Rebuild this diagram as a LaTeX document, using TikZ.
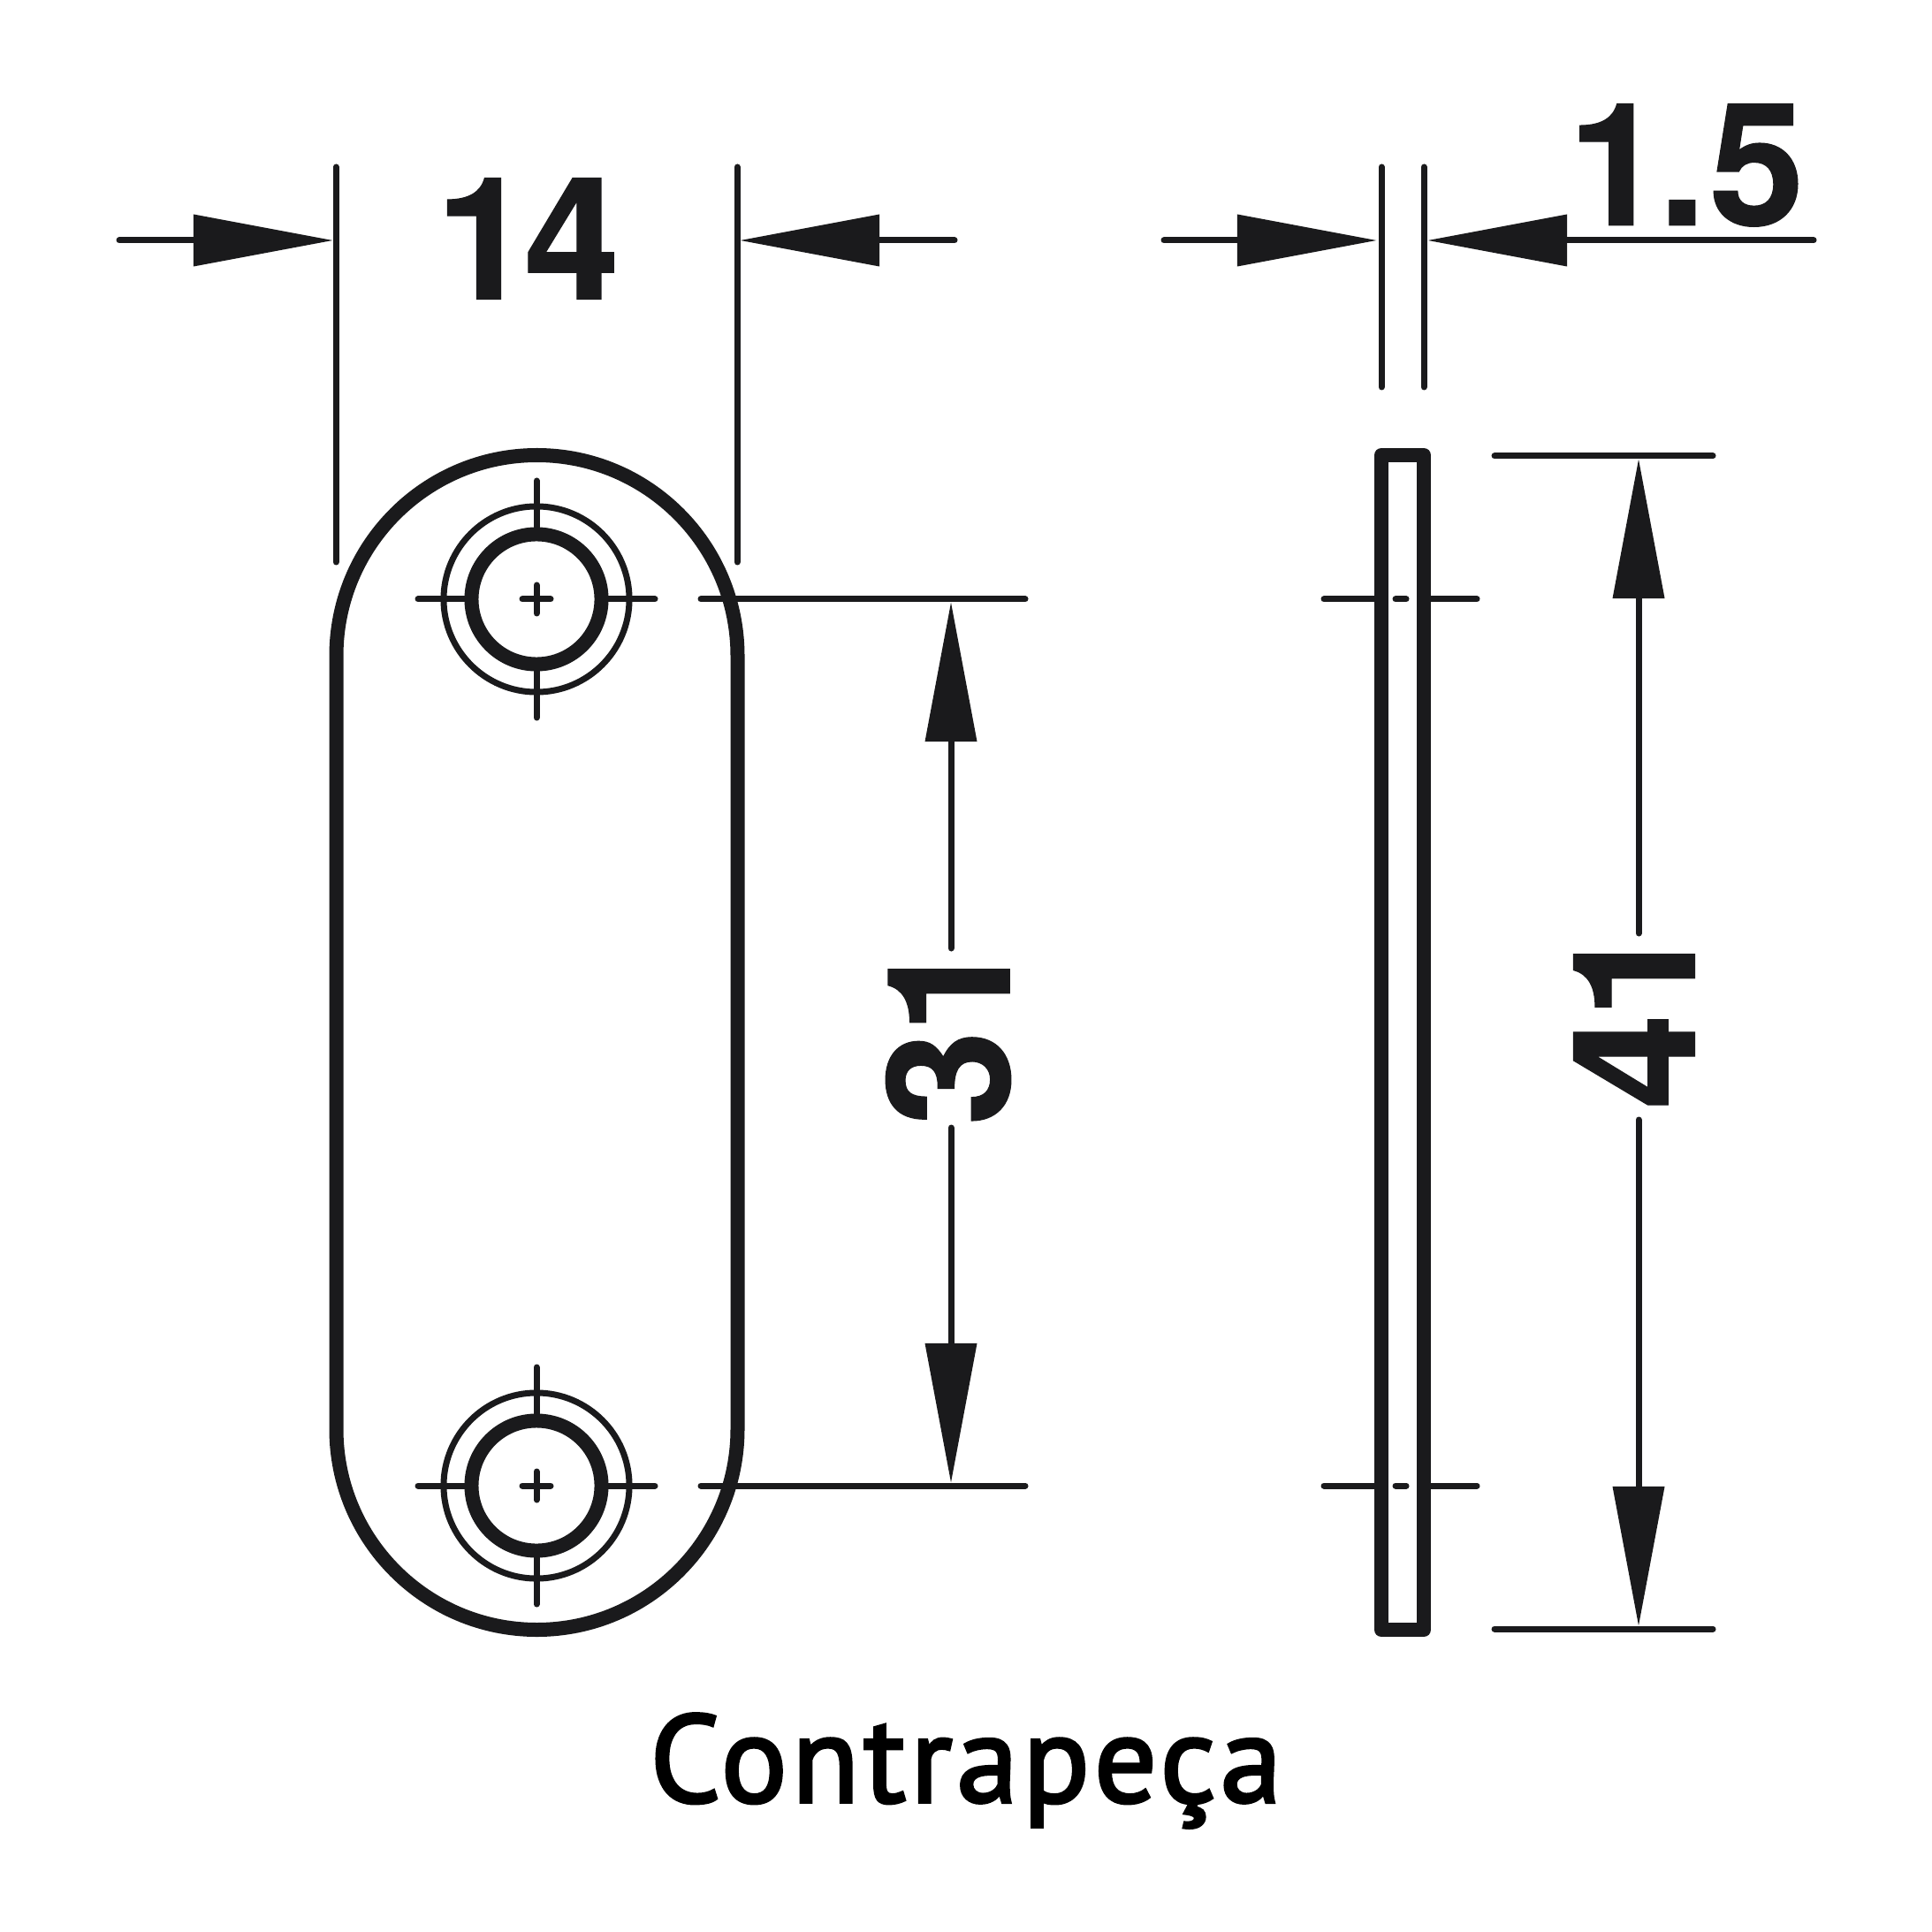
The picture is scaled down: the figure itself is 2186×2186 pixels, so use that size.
\documentclass[tikz,border=0pt]{standalone}
\usepackage{fontspec}
\setmainfont[BoldFeatures={FakeBold=0.6}]{TeX Gyre Heros}
\newfontfamily\capfont[LetterSpace=3.4,FakeBold=2.5]{PT Sans}
\usetikzlibrary{arrows.meta}
\definecolor{ink}{HTML}{1A1A1C}
\tikzset{
  thin line/.style={draw=ink,line width=.07cm,line cap=round},
  dimline/.style={thin line,-{Triangle[length=1.58cm,width=.57cm,color=ink]}},
  heavy/.style={draw=ink,line width=.16cm,line join=round},
  dimtext/.style={text=ink,inner sep=0pt,font=\fontsize{55pt}{60pt}\selectfont\bfseries},
  caption text/.style={text=black,inner sep=0pt,font=\fontsize{40pt}{46pt}\capfont}
}
\newcommand{\hole}[2]{%
  \draw[thin line] (#1-134,#2) -- (#1+134,#2) (#1,#2-134) -- (#1,#2+134);
  \draw[draw=ink,line width=.07cm] (#1,#2) circle[radius=1.05cm];
  \draw[draw=ink,line width=.16cm,fill=white] (#1,#2) circle[radius=.735cm];
  \draw[thin line] (#1-16,#2) -- (#1+16,#2) (#1,#2-16) -- (#1,#2+16);
}
\begin{document}
\begin{tikzpicture}[x=.01cm,y=-.01cm]
\useasboundingbox (0,0) rectangle (2186,2186);
\fill[white] (0,0) rectangle (2186,2186);
% plate outline
\draw[heavy] (380.5,742) .. controls (380.5,617) and (482,515) .. (607.5,515)
  .. controls (733,515) and (834.5,617) .. (834.5,742)
  -- (834.5,1617) .. controls (834.5,1742) and (733,1844) .. (607.5,1844)
  .. controls (482,1844) and (380.5,1742) .. (380.5,1617) -- cycle;
\hole{607}{678}
\hole{607}{1681}
% extension lines
\draw[thin line] (380,189) -- (380,636);
\draw[thin line] (834,189) -- (834,636);
\draw[thin line] (793,678) -- (1160,678);
\draw[thin line] (793,1681) -- (1160,1681);
% dim 14
\draw[dimline] (135,272) -- (377,272);
\draw[dimline] (1080,272) -- (837,272);
\node[dimtext] (t14) at (597,270) {1\kern-.04em 4};
% side view
\draw[thin line] (1563,189) -- (1563,438);
\draw[thin line] (1611,189) -- (1611,438);
\draw[thin line] (1498,678) -- (1671,678);
\draw[thin line] (1498,1681) -- (1671,1681);
\draw[heavy,fill=white] (1563,515) rectangle (1611,1844);
\draw[thin line] (1579,678) -- (1591,678);
\draw[thin line] (1579,1681) -- (1591,1681);
% dim 1.5
\draw[dimline] (1317,272) -- (1558,272);
\draw[dimline] (2052,272) -- (1615,272);
\node[dimtext] (t15) at (1908,187) {1\kern-.03em.\kern.02em5};
% dim 31
\draw[dimline] (1076,1073) -- (1076,681);
\draw[dimline] (1076,1276) -- (1076,1678);
\node[dimtext,rotate=90] (t31) at (1073,1168) {3\kern-.02em 1};
% dim 41
\draw[thin line] (1691,516) -- (1938,516);
\draw[thin line] (1691,1843) -- (1938,1843);
\draw[dimline] (1854,1056) -- (1854,519);
\draw[dimline] (1854,1267) -- (1854,1840);
\node[dimtext,rotate=90] (t41) at (1849,1150) {4\kern-.03em 1};
% caption
\node[caption text,anchor=base] (cap) at (1093,2039) {Contrapeça};
\end{tikzpicture}
\end{document}
